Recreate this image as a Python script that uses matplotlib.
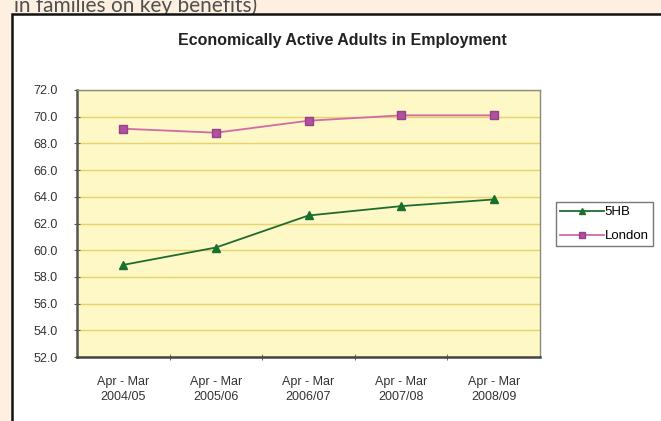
import matplotlib
matplotlib.use("Agg")
from matplotlib import pyplot as plt
from matplotlib.patches import Rectangle
from matplotlib.ticker import FixedLocator

periods = ["Apr - Mar\n2004/05", "Apr - Mar\n2005/06", "Apr - Mar\n2006/07",
           "Apr - Mar\n2007/08", "Apr - Mar\n2008/09"]
shb = [58.9, 60.2, 62.6, 63.3, 63.8]
london = [69.1, 68.8, 69.7, 70.1, 70.1]
y_ticks = [52.0, 54.0, 56.0, 58.0, 60.0, 62.0, 64.0, 66.0, 68.0, 70.0, 72.0]

W, H = 661, 421
fig = plt.figure(figsize=(W / 100, H / 100), dpi=100)
fig.patch.set_facecolor("#fdf0e1")
plt.rcParams["font.family"] = ["Liberation Sans", "DejaVu Sans"]

# cut-off line of document text above the chart
fig.text(14 / W, (H - 12) / H, "in families on key benefits)", family="Lato",
         fontsize=15, color="#505050", va="baseline", zorder=1)

# white chart box with black border
box = Rectangle((12 / W, -0.05), 1.0, (H - 14) / H + 0.05, transform=fig.transFigure,
                facecolor="white", edgecolor="#111111", linewidth=1.8, zorder=2)
fig.patches.append(box)

ax = fig.add_axes([77 / W, (H - 357) / H, 463 / W, 267 / H], zorder=3)
ax.set_facecolor("#fdf8c6")

x = list(range(len(periods)))
ax.plot(x, shb, color="#1f6b30", marker="^", markersize=6, markerfacecolor="#17702c",
        markeredgecolor="#17702c", linewidth=1.3, label="5HB", zorder=4)
ax.plot(x, london, color="#d26aa8", marker="s", markersize=6, markerfacecolor="#b0509f",
        markeredgecolor="#9a3f8a", linewidth=1.3, label="London", zorder=4)

ax.set_xlim(-0.5, len(periods) - 0.5)
ax.set_ylim(52, 72)
ax.set_yticks(y_ticks)
ax.set_yticklabels([f"{v:.1f}" for v in y_ticks], fontsize=9, color="#333333")
ax.set_xticks(x)
ax.set_xticklabels(periods, fontsize=9, color="#333333", linespacing=1.3)
ax.tick_params(axis="x", length=0, pad=14)
ax.xaxis.set_minor_locator(FixedLocator([0.5, 1.5, 2.5, 3.5]))
ax.tick_params(axis="x", which="minor", length=4, direction="inout", color="#555555")
ax.tick_params(axis="y", length=4, direction="inout", color="#555555", pad=12)

ax.grid(axis="y", color="#e6d46a", linewidth=1.0)
ax.set_axisbelow(True)
for side in ["top", "right"]:
    ax.spines[side].set_color("#8a8a7a")
    ax.spines[side].set_linewidth(1.0)
ax.spines["left"].set_color("#555555")
ax.spines["left"].set_linewidth(1.8)
ax.spines["bottom"].set_color("#444444")
ax.spines["bottom"].set_linewidth(1.8)

fig.text(342 / W, (H - 41) / H, "Economically Active Adults in Employment",
         ha="center", va="center", fontsize=11.5, fontweight="bold", color="#222222", zorder=3)

leg = fig.legend(loc="upper left", bbox_to_anchor=(556 / W, (H - 202) / H), fontsize=9.5,
                 frameon=True, fancybox=False, edgecolor="#555555", handlelength=3.3,
                 handletextpad=0.1, borderpad=0.3, labelspacing=0.9, markerscale=0.7,
                 borderaxespad=0)
leg.get_frame().set_linewidth(1.0)
leg.set_zorder(5)

fig.savefig("out.png", dpi=100, facecolor=fig.get_facecolor())
